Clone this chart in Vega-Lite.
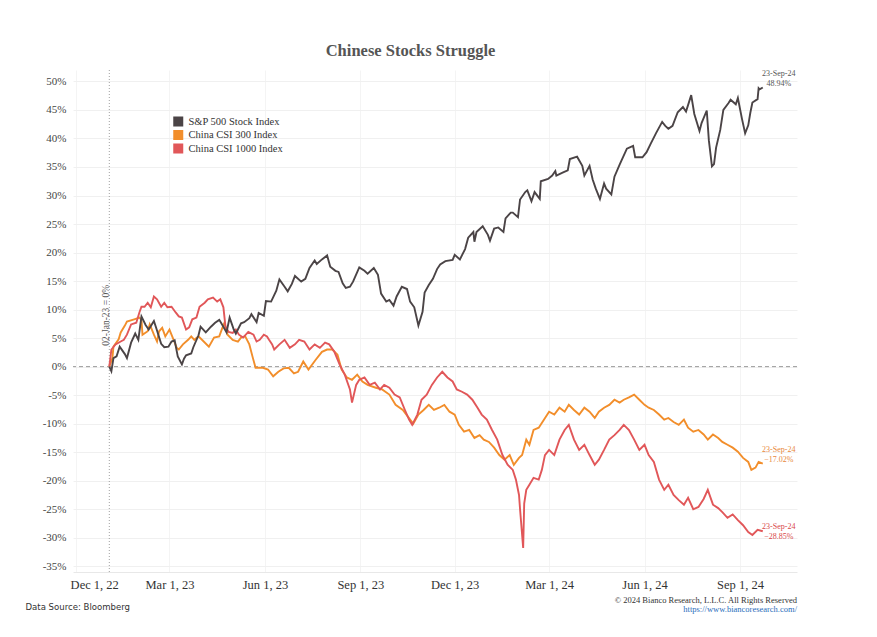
{
  "$schema": "https://vega.github.io/schema/vega-lite/v6.json",
  "width": 724,
  "height": 502,
  "autosize": {"type": "none"},
  "padding": {"left": 73, "top": 70, "right": 80, "bottom": 65},
  "background": "white",
  "title": {
    "text": "© 2024 Bianco Research, L.L.C. All Rights Reserved",
    "subtitle": "https://www.biancoresearch.com/",
    "orient": "bottom",
    "anchor": "end",
    "frame": "group",
    "offset": -15,
    "font": "Liberation Serif",
    "fontSize": 8.5,
    "fontWeight": "normal",
    "color": "#333333",
    "subtitleFont": "Liberation Serif",
    "subtitleFontSize": 8.5,
    "subtitleColor": "#2a6ebb",
    "subtitlePadding": 1
  },
  "config": {
    "view": {"stroke": null},
    "font": "Liberation Serif",
    "axis": {"labelOverlap": false, "labelSeparation": 0},
    "axisY": {"labelOverlap": false}
  },
  "datasets": {
    "spx": [
      {"date":"2023-01-02","pct":0},{"date":"2023-01-04","pct":-0.8},{"date":"2023-01-06","pct":1.5},{"date":"2023-01-09","pct":1.8},{"date":"2023-01-12","pct":3.5},{"date":"2023-01-17","pct":2.2},{"date":"2023-01-19","pct":1.5},{"date":"2023-01-23","pct":4.2},{"date":"2023-01-27","pct":5.8},{"date":"2023-01-30","pct":4.7},{"date":"2023-02-02","pct":8.8},{"date":"2023-02-06","pct":7.3},{"date":"2023-02-09","pct":6.5},{"date":"2023-02-14","pct":8.0},{"date":"2023-02-16","pct":6.9},{"date":"2023-02-21","pct":4.0},{"date":"2023-02-24","pct":3.4},{"date":"2023-02-28","pct":3.5},{"date":"2023-03-03","pct":4.4},{"date":"2023-03-06","pct":4.6},{"date":"2023-03-09","pct":1.8},{"date":"2023-03-13","pct":0.4},{"date":"2023-03-15","pct":1.4},{"date":"2023-03-17","pct":2.0},{"date":"2023-03-22","pct":2.3},{"date":"2023-03-24","pct":3.4},{"date":"2023-03-29","pct":5.5},{"date":"2023-03-31","pct":7.0},{"date":"2023-04-05","pct":6.0},{"date":"2023-04-10","pct":7.0},{"date":"2023-04-14","pct":7.7},{"date":"2023-04-18","pct":8.2},{"date":"2023-04-21","pct":7.3},{"date":"2023-04-25","pct":6.0},{"date":"2023-04-28","pct":8.6},{"date":"2023-05-02","pct":6.5},{"date":"2023-05-04","pct":5.8},{"date":"2023-05-09","pct":7.6},{"date":"2023-05-12","pct":7.8},{"date":"2023-05-17","pct":8.5},{"date":"2023-05-19","pct":9.2},{"date":"2023-05-24","pct":7.8},{"date":"2023-05-26","pct":9.4},{"date":"2023-05-31","pct":8.9},{"date":"2023-06-02","pct":11.5},{"date":"2023-06-07","pct":11.4},{"date":"2023-06-12","pct":13.3},{"date":"2023-06-15","pct":15.3},{"date":"2023-06-20","pct":14.0},{"date":"2023-06-23","pct":13.2},{"date":"2023-06-27","pct":14.5},{"date":"2023-06-30","pct":15.9},{"date":"2023-07-06","pct":14.9},{"date":"2023-07-10","pct":15.4},{"date":"2023-07-14","pct":17.3},{"date":"2023-07-19","pct":18.6},{"date":"2023-07-21","pct":18.0},{"date":"2023-07-26","pct":18.8},{"date":"2023-07-31","pct":19.5},{"date":"2023-08-03","pct":17.5},{"date":"2023-08-08","pct":16.8},{"date":"2023-08-11","pct":16.6},{"date":"2023-08-15","pct":14.6},{"date":"2023-08-18","pct":13.8},{"date":"2023-08-22","pct":14.0},{"date":"2023-08-25","pct":14.9},{"date":"2023-08-31","pct":17.4},{"date":"2023-09-05","pct":16.8},{"date":"2023-09-08","pct":16.3},{"date":"2023-09-14","pct":17.3},{"date":"2023-09-18","pct":16.1},{"date":"2023-09-21","pct":12.8},{"date":"2023-09-26","pct":11.4},{"date":"2023-09-29","pct":11.7},{"date":"2023-10-03","pct":10.7},{"date":"2023-10-06","pct":12.3},{"date":"2023-10-11","pct":14.0},{"date":"2023-10-16","pct":13.6},{"date":"2023-10-19","pct":11.4},{"date":"2023-10-23","pct":10.4},{"date":"2023-10-27","pct":7.2},{"date":"2023-10-31","pct":9.6},{"date":"2023-11-02","pct":13.0},{"date":"2023-11-06","pct":14.3},{"date":"2023-11-10","pct":15.4},{"date":"2023-11-14","pct":17.1},{"date":"2023-11-17","pct":17.9},{"date":"2023-11-22","pct":18.5},{"date":"2023-11-29","pct":18.7},{"date":"2023-12-01","pct":19.6},{"date":"2023-12-06","pct":18.8},{"date":"2023-12-11","pct":20.6},{"date":"2023-12-14","pct":22.6},{"date":"2023-12-19","pct":23.6},{"date":"2023-12-20","pct":21.9},{"date":"2023-12-22","pct":23.6},{"date":"2023-12-28","pct":24.6},{"date":"2024-01-02","pct":23.1},{"date":"2024-01-04","pct":22.1},{"date":"2024-01-08","pct":24.2},{"date":"2024-01-12","pct":24.4},{"date":"2024-01-17","pct":23.6},{"date":"2024-01-19","pct":26.0},{"date":"2024-01-24","pct":27.0},{"date":"2024-01-26","pct":27.0},{"date":"2024-01-31","pct":26.2},{"date":"2024-02-02","pct":29.3},{"date":"2024-02-07","pct":30.6},{"date":"2024-02-09","pct":30.9},{"date":"2024-02-13","pct":29.0},{"date":"2024-02-16","pct":30.6},{"date":"2024-02-21","pct":29.4},{"date":"2024-02-22","pct":32.5},{"date":"2024-02-29","pct":32.9},{"date":"2024-03-04","pct":33.5},{"date":"2024-03-07","pct":34.3},{"date":"2024-03-08","pct":33.5},{"date":"2024-03-14","pct":34.0},{"date":"2024-03-19","pct":34.4},{"date":"2024-03-21","pct":36.4},{"date":"2024-03-28","pct":36.8},{"date":"2024-04-02","pct":35.2},{"date":"2024-04-04","pct":33.5},{"date":"2024-04-09","pct":35.2},{"date":"2024-04-12","pct":32.8},{"date":"2024-04-15","pct":31.2},{"date":"2024-04-19","pct":29.4},{"date":"2024-04-23","pct":32.1},{"date":"2024-04-25","pct":31.2},{"date":"2024-04-30","pct":30.2},{"date":"2024-05-03","pct":33.3},{"date":"2024-05-08","pct":35.4},{"date":"2024-05-15","pct":38.2},{"date":"2024-05-21","pct":38.7},{"date":"2024-05-23","pct":36.7},{"date":"2024-05-30","pct":36.7},{"date":"2024-06-03","pct":37.6},{"date":"2024-06-07","pct":39.1},{"date":"2024-06-12","pct":40.9},{"date":"2024-06-18","pct":42.9},{"date":"2024-06-21","pct":42.2},{"date":"2024-06-24","pct":41.7},{"date":"2024-06-28","pct":42.2},{"date":"2024-07-03","pct":44.6},{"date":"2024-07-08","pct":45.5},{"date":"2024-07-11","pct":44.7},{"date":"2024-07-16","pct":47.6},{"date":"2024-07-19","pct":44.3},{"date":"2024-07-24","pct":41.3},{"date":"2024-07-26","pct":42.7},{"date":"2024-07-31","pct":44.9},{"date":"2024-08-02","pct":39.7},{"date":"2024-08-05","pct":35.1},{"date":"2024-08-07","pct":35.5},{"date":"2024-08-09","pct":38.4},{"date":"2024-08-13","pct":41.5},{"date":"2024-08-16","pct":45.0},{"date":"2024-08-21","pct":46.2},{"date":"2024-08-23","pct":46.8},{"date":"2024-08-28","pct":46.0},{"date":"2024-08-30","pct":47.1},{"date":"2024-09-03","pct":43.4},{"date":"2024-09-06","pct":40.9},{"date":"2024-09-09","pct":42.3},{"date":"2024-09-11","pct":44.5},{"date":"2024-09-13","pct":46.3},{"date":"2024-09-18","pct":46.9},{"date":"2024-09-19","pct":48.8},{"date":"2024-09-20","pct":48.6},{"date":"2024-09-23","pct":48.94}
    ],
    "csi300": [
      {"date":"2023-01-02","pct":0},{"date":"2023-01-05","pct":1.5},{"date":"2023-01-06","pct":3.5},{"date":"2023-01-11","pct":4.8},{"date":"2023-01-13","pct":6.0},{"date":"2023-01-17","pct":7.2},{"date":"2023-01-19","pct":7.9},{"date":"2023-01-26","pct":8.3},{"date":"2023-01-31","pct":8.6},{"date":"2023-02-02","pct":8.2},{"date":"2023-02-03","pct":5.6},{"date":"2023-02-08","pct":6.2},{"date":"2023-02-10","pct":7.4},{"date":"2023-02-14","pct":5.6},{"date":"2023-02-17","pct":4.4},{"date":"2023-02-19","pct":6.2},{"date":"2023-02-22","pct":6.8},{"date":"2023-02-25","pct":5.3},{"date":"2023-03-01","pct":6.5},{"date":"2023-03-05","pct":4.7},{"date":"2023-03-08","pct":3.3},{"date":"2023-03-10","pct":3.0},{"date":"2023-03-14","pct":3.9},{"date":"2023-03-19","pct":4.7},{"date":"2023-03-22","pct":5.3},{"date":"2023-03-25","pct":4.7},{"date":"2023-03-29","pct":5.3},{"date":"2023-04-03","pct":4.4},{"date":"2023-04-08","pct":3.5},{"date":"2023-04-13","pct":5.1},{"date":"2023-04-18","pct":5.3},{"date":"2023-04-21","pct":6.8},{"date":"2023-04-23","pct":7.7},{"date":"2023-04-26","pct":5.6},{"date":"2023-05-01","pct":4.7},{"date":"2023-05-06","pct":4.4},{"date":"2023-05-09","pct":5.1},{"date":"2023-05-13","pct":5.3},{"date":"2023-05-17","pct":3.9},{"date":"2023-05-20","pct":1.8},{"date":"2023-05-23","pct":-0.2},{"date":"2023-05-30","pct":-0.2},{"date":"2023-06-04","pct":-0.5},{"date":"2023-06-09","pct":-1.7},{"date":"2023-06-14","pct":-0.9},{"date":"2023-06-19","pct":-0.3},{"date":"2023-06-24","pct":-0.2},{"date":"2023-06-29","pct":-1.2},{"date":"2023-07-03","pct":-0.9},{"date":"2023-07-08","pct":0.9},{"date":"2023-07-13","pct":-0.5},{"date":"2023-07-20","pct":1.2},{"date":"2023-07-26","pct":2.6},{"date":"2023-07-31","pct":3.0},{"date":"2023-08-05","pct":3.0},{"date":"2023-08-10","pct":2.1},{"date":"2023-08-14","pct":-0.5},{"date":"2023-08-19","pct":-1.9},{"date":"2023-08-24","pct":-2.3},{"date":"2023-08-29","pct":-1.4},{"date":"2023-09-03","pct":-2.6},{"date":"2023-09-08","pct":-3.2},{"date":"2023-09-16","pct":-3.7},{"date":"2023-09-22","pct":-4.0},{"date":"2023-09-29","pct":-4.9},{"date":"2023-10-05","pct":-6.7},{"date":"2023-10-12","pct":-7.6},{"date":"2023-10-19","pct":-9.3},{"date":"2023-10-22","pct":-10.0},{"date":"2023-10-27","pct":-8.4},{"date":"2023-11-01","pct":-7.6},{"date":"2023-11-06","pct":-6.7},{"date":"2023-11-11","pct":-7.6},{"date":"2023-11-16","pct":-7.2},{"date":"2023-11-21","pct":-6.7},{"date":"2023-11-26","pct":-7.9},{"date":"2023-12-01","pct":-8.4},{"date":"2023-12-05","pct":-10.2},{"date":"2023-12-10","pct":-11.4},{"date":"2023-12-15","pct":-11.1},{"date":"2023-12-20","pct":-12.5},{"date":"2023-12-25","pct":-12.0},{"date":"2023-12-29","pct":-12.8},{"date":"2024-01-03","pct":-13.2},{"date":"2024-01-08","pct":-14.2},{"date":"2024-01-13","pct":-15.5},{"date":"2024-01-18","pct":-16.3},{"date":"2024-01-23","pct":-15.5},{"date":"2024-01-27","pct":-17.2},{"date":"2024-02-01","pct":-16.0},{"date":"2024-02-04","pct":-15.5},{"date":"2024-02-08","pct":-12.8},{"date":"2024-02-11","pct":-13.7},{"date":"2024-02-15","pct":-11.1},{"date":"2024-02-20","pct":-10.7},{"date":"2024-02-25","pct":-9.3},{"date":"2024-03-01","pct":-7.9},{"date":"2024-03-06","pct":-8.4},{"date":"2024-03-11","pct":-7.2},{"date":"2024-03-16","pct":-7.9},{"date":"2024-03-20","pct":-6.7},{"date":"2024-03-25","pct":-7.6},{"date":"2024-03-30","pct":-8.4},{"date":"2024-04-04","pct":-7.2},{"date":"2024-04-09","pct":-7.9},{"date":"2024-04-14","pct":-9.0},{"date":"2024-04-18","pct":-7.9},{"date":"2024-04-23","pct":-7.2},{"date":"2024-04-28","pct":-6.7},{"date":"2024-05-03","pct":-5.8},{"date":"2024-05-08","pct":-6.3},{"date":"2024-05-12","pct":-5.8},{"date":"2024-05-17","pct":-5.4},{"date":"2024-05-22","pct":-4.9},{"date":"2024-05-27","pct":-5.8},{"date":"2024-06-01","pct":-6.7},{"date":"2024-06-05","pct":-7.2},{"date":"2024-06-10","pct":-7.6},{"date":"2024-06-15","pct":-8.4},{"date":"2024-06-20","pct":-9.3},{"date":"2024-06-24","pct":-9.0},{"date":"2024-06-29","pct":-9.7},{"date":"2024-07-04","pct":-10.2},{"date":"2024-07-09","pct":-9.3},{"date":"2024-07-13","pct":-10.7},{"date":"2024-07-18","pct":-11.4},{"date":"2024-07-23","pct":-11.1},{"date":"2024-07-28","pct":-11.9},{"date":"2024-08-01","pct":-12.8},{"date":"2024-08-06","pct":-11.9},{"date":"2024-08-11","pct":-12.5},{"date":"2024-08-15","pct":-13.2},{"date":"2024-08-20","pct":-13.7},{"date":"2024-08-25","pct":-14.2},{"date":"2024-08-30","pct":-14.9},{"date":"2024-09-04","pct":-16.0},{"date":"2024-09-09","pct":-16.7},{"date":"2024-09-12","pct":-18.1},{"date":"2024-09-16","pct":-17.7},{"date":"2024-09-19","pct":-16.7},{"date":"2024-09-23","pct":-17.02}
    ],
    "csi1000": [
      {"date":"2023-01-02","pct":0},{"date":"2023-01-04","pct":3.0},{"date":"2023-01-08","pct":3.9},{"date":"2023-01-13","pct":4.4},{"date":"2023-01-16","pct":4.7},{"date":"2023-01-19","pct":5.6},{"date":"2023-01-23","pct":7.4},{"date":"2023-01-28","pct":7.7},{"date":"2023-01-31","pct":9.5},{"date":"2023-02-02","pct":10.5},{"date":"2023-02-05","pct":10.5},{"date":"2023-02-08","pct":11.2},{"date":"2023-02-11","pct":10.4},{"date":"2023-02-14","pct":12.3},{"date":"2023-02-17","pct":11.8},{"date":"2023-02-21","pct":10.5},{"date":"2023-02-24","pct":11.2},{"date":"2023-02-27","pct":10.4},{"date":"2023-03-03","pct":10.5},{"date":"2023-03-07","pct":9.5},{"date":"2023-03-10","pct":8.8},{"date":"2023-03-13","pct":8.6},{"date":"2023-03-17","pct":6.5},{"date":"2023-03-20","pct":6.9},{"date":"2023-03-23","pct":8.3},{"date":"2023-03-27","pct":8.6},{"date":"2023-03-30","pct":10.5},{"date":"2023-04-04","pct":11.2},{"date":"2023-04-07","pct":11.8},{"date":"2023-04-12","pct":12.1},{"date":"2023-04-16","pct":11.4},{"date":"2023-04-19","pct":11.8},{"date":"2023-04-22","pct":10.4},{"date":"2023-04-24","pct":7.0},{"date":"2023-04-27","pct":6.1},{"date":"2023-05-01","pct":5.9},{"date":"2023-05-04","pct":6.5},{"date":"2023-05-07","pct":5.6},{"date":"2023-05-11","pct":5.1},{"date":"2023-05-16","pct":6.1},{"date":"2023-05-21","pct":5.6},{"date":"2023-05-24","pct":4.4},{"date":"2023-05-27","pct":4.7},{"date":"2023-05-31","pct":5.6},{"date":"2023-06-03","pct":5.3},{"date":"2023-06-05","pct":4.7},{"date":"2023-06-08","pct":3.9},{"date":"2023-06-10","pct":3.0},{"date":"2023-06-15","pct":3.9},{"date":"2023-06-20","pct":4.7},{"date":"2023-06-25","pct":3.3},{"date":"2023-06-30","pct":3.9},{"date":"2023-07-04","pct":4.7},{"date":"2023-07-09","pct":4.4},{"date":"2023-07-14","pct":3.0},{"date":"2023-07-19","pct":3.9},{"date":"2023-07-24","pct":3.3},{"date":"2023-07-29","pct":4.2},{"date":"2023-08-02","pct":3.9},{"date":"2023-08-07","pct":2.6},{"date":"2023-08-12","pct":0.4},{"date":"2023-08-17","pct":-1.4},{"date":"2023-08-22","pct":-4.0},{"date":"2023-08-24","pct":-6.3},{"date":"2023-08-28","pct":-3.2},{"date":"2023-08-31","pct":-2.3},{"date":"2023-09-05","pct":-1.9},{"date":"2023-09-10","pct":-3.2},{"date":"2023-09-15","pct":-2.8},{"date":"2023-09-20","pct":-4.0},{"date":"2023-09-24","pct":-3.2},{"date":"2023-09-29","pct":-3.7},{"date":"2023-10-04","pct":-4.9},{"date":"2023-10-09","pct":-5.4},{"date":"2023-10-14","pct":-7.6},{"date":"2023-10-18","pct":-9.3},{"date":"2023-10-21","pct":-10.2},{"date":"2023-10-26","pct":-8.4},{"date":"2023-10-30","pct":-5.8},{"date":"2023-11-04","pct":-4.9},{"date":"2023-11-09","pct":-3.2},{"date":"2023-11-14","pct":-1.9},{"date":"2023-11-19","pct":-0.9},{"date":"2023-11-24","pct":-1.9},{"date":"2023-11-29","pct":-2.6},{"date":"2023-12-03","pct":-4.0},{"date":"2023-12-08","pct":-4.4},{"date":"2023-12-13","pct":-4.9},{"date":"2023-12-18","pct":-5.8},{"date":"2023-12-23","pct":-7.2},{"date":"2023-12-27","pct":-8.4},{"date":"2024-01-01","pct":-9.3},{"date":"2024-01-06","pct":-11.1},{"date":"2024-01-11","pct":-12.8},{"date":"2024-01-16","pct":-15.5},{"date":"2024-01-21","pct":-17.2},{"date":"2024-01-26","pct":-18.1},{"date":"2024-01-29","pct":-19.8},{"date":"2024-02-01","pct":-22.5},{"date":"2024-02-02","pct":-25.0},{"date":"2024-02-05","pct":-31.8},{"date":"2024-02-06","pct":-24.0},{"date":"2024-02-08","pct":-21.6},{"date":"2024-02-11","pct":-20.7},{"date":"2024-02-15","pct":-19.5},{"date":"2024-02-20","pct":-19.8},{"date":"2024-02-23","pct":-18.1},{"date":"2024-02-26","pct":-15.5},{"date":"2024-03-01","pct":-14.6},{"date":"2024-03-06","pct":-15.5},{"date":"2024-03-11","pct":-12.8},{"date":"2024-03-16","pct":-11.1},{"date":"2024-03-20","pct":-10.2},{"date":"2024-03-25","pct":-12.8},{"date":"2024-03-30","pct":-14.6},{"date":"2024-04-04","pct":-13.7},{"date":"2024-04-09","pct":-15.5},{"date":"2024-04-14","pct":-17.2},{"date":"2024-04-18","pct":-16.3},{"date":"2024-04-23","pct":-14.6},{"date":"2024-04-28","pct":-12.8},{"date":"2024-05-03","pct":-12.0},{"date":"2024-05-08","pct":-11.1},{"date":"2024-05-12","pct":-10.2},{"date":"2024-05-17","pct":-11.1},{"date":"2024-05-22","pct":-12.8},{"date":"2024-05-27","pct":-14.6},{"date":"2024-06-01","pct":-13.7},{"date":"2024-06-05","pct":-15.5},{"date":"2024-06-10","pct":-16.7},{"date":"2024-06-15","pct":-19.8},{"date":"2024-06-20","pct":-21.6},{"date":"2024-06-24","pct":-20.7},{"date":"2024-06-29","pct":-22.5},{"date":"2024-07-04","pct":-23.4},{"date":"2024-07-09","pct":-24.2},{"date":"2024-07-13","pct":-23.0},{"date":"2024-07-18","pct":-25.0},{"date":"2024-07-23","pct":-24.6},{"date":"2024-07-28","pct":-23.2},{"date":"2024-08-01","pct":-21.6},{"date":"2024-08-06","pct":-24.2},{"date":"2024-08-11","pct":-24.8},{"date":"2024-08-15","pct":-25.5},{"date":"2024-08-20","pct":-26.5},{"date":"2024-08-25","pct":-25.9},{"date":"2024-08-30","pct":-26.9},{"date":"2024-09-04","pct":-27.8},{"date":"2024-09-09","pct":-29.0},{"date":"2024-09-13","pct":-29.5},{"date":"2024-09-18","pct":-28.6},{"date":"2024-09-23","pct":-28.85}
    ],
    "base": [{"date":"2023-01-02","pct":0,"note":"02-Jan-23 = 0%"}]
  },
  "layer": [
    {
      "data": {"name": "base"},
      "mark": {"type": "rule", "color": "#9a9a9a", "strokeDash": [4, 3], "strokeWidth": 1},
      "encoding": {
        "y": {
          "field": "pct",
          "type": "quantitative",
          "scale": {"domain": [-36, 52], "nice": false, "zero": false},
          "axis": {
            "values": [-35, -30, -25, -20, -15, -10, -5, 0, 5, 10, 15, 20, 25, 30, 35, 40, 45, 50],
            "tickCount": 18,
            "labelExpr": "datum.value + '%'",
            "labelFont": "Liberation Serif",
            "labelFontSize": 11,
            "labelColor": "#444444",
            "labelPadding": 7,
            "labelOverlap": false,
            "ticks": false,
            "domain": false,
            "grid": true,
            "gridColor": "#f0f0f0",
            "title": "Chinese Stocks Struggle",
            "titleAngle": 0,
            "titleX": 337,
            "titleY": -15,
            "titleAlign": "center",
            "titleBaseline": "alphabetic",
            "titleFont": "Liberation Serif",
            "titleFontSize": 16.5,
            "titleFontWeight": "bold",
            "titleColor": "#555555"
          }
        }
      }
    },
    {
      "data": {"name": "base"},
      "mark": {"type": "rule", "color": "#a0a0a0", "strokeDash": [1, 2], "strokeWidth": 1},
      "encoding": {
        "x": {
          "field": "date",
          "type": "temporal",
          "scale": {"domain": [{"year": 2022, "month": 11, "date": 28}, {"year": 2024, "month": 10, "date": 26}]},
          "axis": {
            "values": [
              {"year": 2022, "month": 12, "date": 1},
              {"year": 2023, "month": 3, "date": 1},
              {"year": 2023, "month": 6, "date": 1},
              {"year": 2023, "month": 9, "date": 1},
              {"year": 2023, "month": 12, "date": 1},
              {"year": 2024, "month": 3, "date": 1},
              {"year": 2024, "month": 6, "date": 1},
              {"year": 2024, "month": 9, "date": 1}
            ],
            "format": "%b %-d, %y",
            "labelFont": "Liberation Serif",
            "labelFontSize": 12.5,
            "labelColor": "#333333",
            "labelPadding": 6,
            "labelFlush": 10,
            "labelFlushOffset": 6,
            "labelOverlap": false,
            "ticks": false,
            "domain": true,
            "domainColor": "#e8e8e8",
            "grid": true,
            "gridColor": "#f4f4f4",
            "title": "Data Source: Bloomberg",
            "titleX": -48,
            "titleY": 37,
            "titleAlign": "left",
            "titleBaseline": "alphabetic",
            "titleFont": "Liberation Sans Narrow, DejaVu Sans Condensed, sans-serif",
            "titleFontSize": 9.5,
            "titleFontWeight": "normal",
            "titleColor": "#333333"
          }
        }
      }
    },
    {
      "data": {"name": "base"},
      "mark": {"type": "text", "angle": 270, "align": "center", "baseline": "bottom", "dy": 2, "fontSize": 9.5, "color": "#555555", "font": "Liberation Serif"},
      "encoding": {
        "x": {"field": "date", "type": "temporal"},
        "y": {"datum": 9.0},
        "text": {"field": "note"}
      }
    },
    {
      "data": {"name": "csi300"},
      "mark": {"type": "line", "strokeWidth": 1.9},
      "encoding": {
        "x": {"field": "date", "type": "temporal"},
        "y": {"field": "pct", "type": "quantitative"},
        "color": {
          "datum": "China CSI 300 Index",
          "scale": {
            "domain": ["S&P 500 Stock Index", "China CSI 300 Index", "China CSI 1000 Index"],
            "range": ["#4b4446", "#f28e2b", "#e15759"]
          },
          "legend": {
            "title": null,
            "orient": "none",
            "legendX": 100,
            "legendY": 46,
            "padding": 0,
            "symbolType": "square",
            "symbolSize": 25,
            "symbolStrokeWidth": 5,
            "clipHeight": 11,
            "labelFont": "Liberation Serif",
            "labelFontSize": 10.5,
            "labelColor": "#333333",
            "labelOffset": 5,
            "rowPadding": 2.5
          }
        }
      }
    },
    {
      "data": {"name": "csi1000"},
      "mark": {"type": "line", "strokeWidth": 1.9},
      "encoding": {
        "x": {"field": "date", "type": "temporal"},
        "y": {"field": "pct", "type": "quantitative"},
        "color": {"datum": "China CSI 1000 Index"}
      }
    },
    {
      "data": {"name": "spx"},
      "mark": {"type": "line", "strokeWidth": 1.9},
      "encoding": {
        "x": {"field": "date", "type": "temporal"},
        "y": {"field": "pct", "type": "quantitative"},
        "color": {"datum": "S&P 500 Stock Index"}
      }
    },
    {
      "data": {"name": "spx"},
      "transform": [
        {"joinaggregate": [{"op": "max", "field": "date", "as": "last"}]},
        {"filter": "time(datum.date) == time(datum.last)"},
        {"calculate": "utcFormat(datum.date, '%d-%b-%y') + '\\n' + format(datum.pct, '.2f') + '%'", "as": "label"}
      ],
      "mark": {"type": "text", "align": "center", "baseline": "bottom", "dx": 16, "dy": -9, "fontSize": 8, "lineBreak": "\n", "color": "#555555", "font": "Liberation Serif"},
      "encoding": {
        "x": {"field": "date", "type": "temporal"},
        "y": {"field": "pct", "type": "quantitative"},
        "text": {"field": "label"}
      }
    },
    {
      "data": {"name": "csi300"},
      "transform": [
        {"joinaggregate": [{"op": "max", "field": "date", "as": "last"}]},
        {"filter": "time(datum.date) == time(datum.last)"},
        {"calculate": "utcFormat(datum.date, '%d-%b-%y') + '\\n' + format(datum.pct, '.2f') + '%'", "as": "label"}
      ],
      "mark": {"type": "text", "align": "center", "baseline": "bottom", "dx": 16, "dy": -10, "fontSize": 8, "lineBreak": "\n", "color": "#e8873a", "font": "Liberation Serif"},
      "encoding": {
        "x": {"field": "date", "type": "temporal"},
        "y": {"field": "pct", "type": "quantitative"},
        "text": {"field": "label"}
      }
    },
    {
      "data": {"name": "csi1000"},
      "transform": [
        {"joinaggregate": [{"op": "max", "field": "date", "as": "last"}]},
        {"filter": "time(datum.date) == time(datum.last)"},
        {"calculate": "utcFormat(datum.date, '%d-%b-%y') + '\\n' + format(datum.pct, '.2f') + '%'", "as": "label"}
      ],
      "mark": {"type": "text", "align": "center", "baseline": "middle", "dx": 16, "dy": -4, "fontSize": 8, "lineBreak": "\n", "color": "#d9464a", "font": "Liberation Serif"},
      "encoding": {
        "x": {"field": "date", "type": "temporal"},
        "y": {"field": "pct", "type": "quantitative"},
        "text": {"field": "label"}
      }
    }
  ]
}
